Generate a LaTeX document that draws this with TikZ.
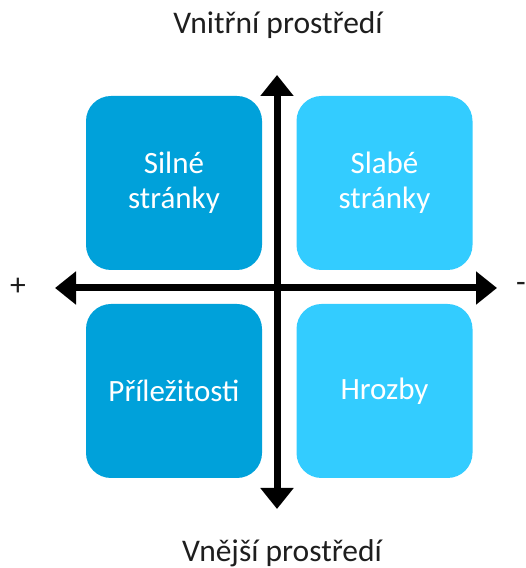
\documentclass[tikz,border=0pt]{standalone}
\usepackage{fontspec}
\setmainfont{Carlito}
\usetikzlibrary{arrows.meta}
\definecolor{darkq}{RGB}{0,161,218}
\definecolor{lightq}{RGB}{51,204,255}
\definecolor{txt}{RGB}{30,30,30}
\begin{document}
\begin{tikzpicture}[x=1pt,y=1pt,
  quad/.style={rectangle,rounded corners=25pt,minimum width=176pt,minimum height=174pt,inner sep=0pt,align=center,text=white,font=\fontsize{31}{35}\selectfont},
  lbl/.style={text=txt,font=\fontsize{31.5}{36}\selectfont,inner sep=0pt},
  axis/.style={line width=7pt,{Triangle[length=21pt,width=32pt]}-{Triangle[length=21pt,width=32pt]}}]
\useasboundingbox (0,0) rectangle (526,568);
\node[quad,fill=darkq] (sw) at (174,385) {Silné\\stránky};
\node[quad,fill=lightq] (wk) at (384.5,385) {Slabé\\stránky};
\node[quad,fill=darkq] (op) at (174,177) {Příležitosti};
\node[quad,fill=lightq] (th) at (384.5,177) {Hrozby};
\coordinate (vt) at (277,493);
\coordinate (vb) at (277,59);
\coordinate (hl) at (55,280);
\coordinate (hr) at (497,280);
\draw[axis] (vb) -- (vt);
\draw[axis] (hl) -- (hr);
\node[lbl] (in) at (278,543) {Vnitřní prostředí};
\node[lbl] (out) at (282,15) {Vnější prostředí};
\node[lbl] (plus) at (18,281) {+};
\node[lbl,anchor=west] (minus) at (516,281) {-};
\end{tikzpicture}
\end{document}
